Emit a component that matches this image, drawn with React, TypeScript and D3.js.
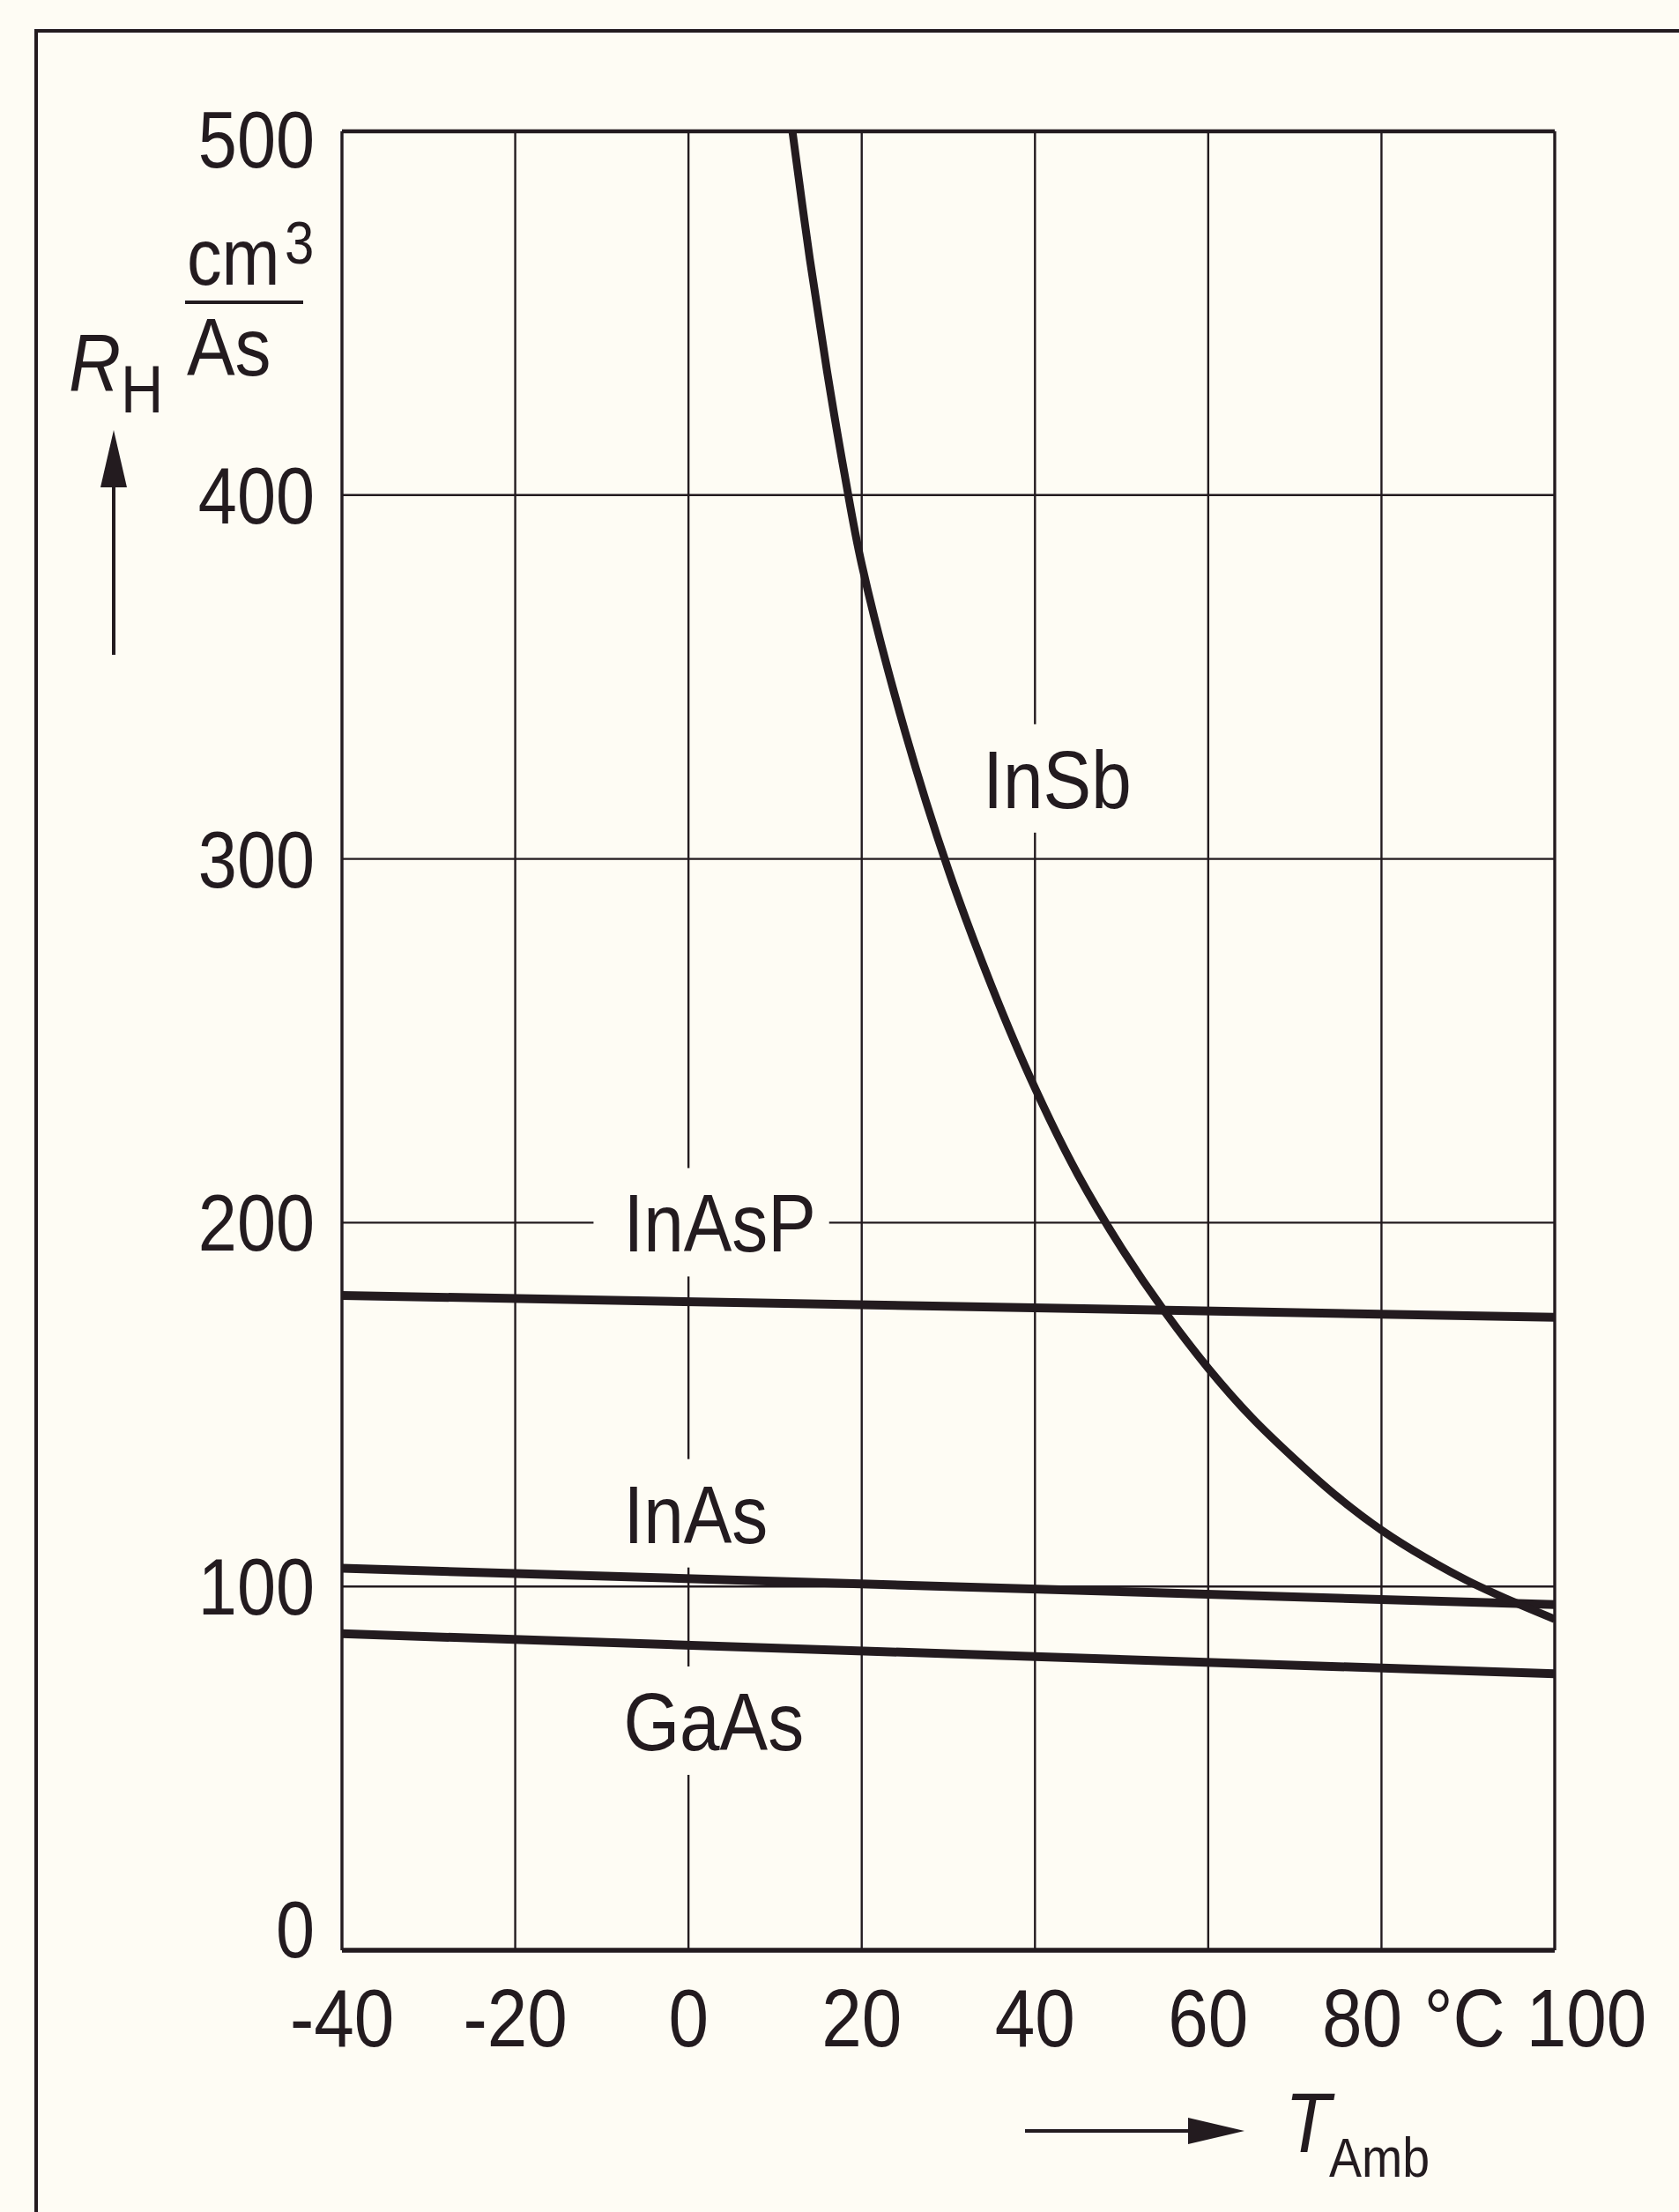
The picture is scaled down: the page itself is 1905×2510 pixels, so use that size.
import React, { useEffect, useRef } from 'react';
import * as d3 from 'd3';

// axis ticks
const xTicks = [-40, -20, 0, 20, 40, 60, 80, 100];
const yTicks = [0, 100, 200, 300, 400, 500];

// straight lines: values at -40 and 100 degC
const lineTemps = [-40, 100];
const inAsP = [180, 174];
const inAs = [105, 95];
const gaAs = [87, 76];

// InSb curve
const inSbTemps = [12, 14, 16, 18, 20, 25, 30, 35, 40, 45, 50, 55, 60, 65, 70, 75, 80, 85, 90, 95, 100];
const inSbValues = [500, 465, 434, 406, 381, 335, 297, 265, 237, 213, 193, 175.5, 160, 146.5, 135, 124.5, 115.5, 108, 101.5, 96, 91];

// curve labels (data coords of the text baseline start)
const labelNames = ['InSb', 'InAsP', 'InAs', 'GaAs'];
const labelTemps = [34, -7.5, -7.5, -7.5];
const labelValues = [314, 192, 112, 55];

export default function App() {
    const svgRef = useRef(null);

    useEffect(() => {
        if (!svgRef.current) return;
        const svg = d3.select(svgRef.current);
        svg.selectAll('*').remove();

        const width = 1905;
        const height = 2510;
        const bg = '#fefcf4';
        const ink = '#231b1f';
        const font = '"Liberation Sans", Arial, Helvetica, sans-serif';
        const sx = 0.88;
        const plot = { left: 388, right: 1764, top: 149, bottom: 2213 };

        const x = d3.scaleLinear().domain([-40, 100]).range([plot.left, plot.right]);
        const y = d3.scaleLinear().domain([0, 500]).range([plot.bottom, plot.top]);

        const text = (px, py, s, size, anchor = 'start', italic = false) =>
            svg.append('text')
                .attr('transform', `translate(${px},${py}) scale(${sx},1)`)
                .attr('font-family', font)
                .attr('font-size', size)
                .attr('font-style', italic ? 'italic' : 'normal')
                .attr('text-anchor', anchor)
                .attr('fill', ink)
                .text(s);

        svg.append('rect').attr('width', width).attr('height', height).attr('fill', bg);

        // page frame
        svg.append('path')
            .attr('d', `M41,${height} L41,35 L${width},35`)
            .attr('fill', 'none').attr('stroke', ink).attr('stroke-width', 4);

        // grid
        svg.append('g')
            .selectAll('line')
            .data(xTicks.slice(1, -1))
            .join('line')
            .attr('x1', d => x(d)).attr('x2', d => x(d))
            .attr('y1', plot.top).attr('y2', plot.bottom)
            .attr('stroke', ink).attr('stroke-width', 2.4);
        svg.append('g')
            .selectAll('line')
            .data(yTicks.slice(1, -1))
            .join('line')
            .attr('x1', plot.left).attr('x2', plot.right)
            .attr('y1', d => y(d)).attr('y2', d => y(d))
            .attr('stroke', ink).attr('stroke-width', 2.4);

        // label knock-outs over the grid
        const labelSize = 93;
        const labels = labelNames.map((name, i) => ({ name, px: x(labelTemps[i]), py: y(labelValues[i]) }));
        const bgLayer = svg.append('g');

        // axis box
        svg.append('line').attr('x1', plot.left).attr('x2', plot.right).attr('y1', plot.top).attr('y2', plot.top)
            .attr('stroke', ink).attr('stroke-width', 4.5);
        svg.append('line').attr('x1', plot.left).attr('x2', plot.right).attr('y1', plot.bottom).attr('y2', plot.bottom)
            .attr('stroke', ink).attr('stroke-width', 5.5);
        [plot.left, plot.right].forEach(px => {
            svg.append('line').attr('x1', px).attr('x2', px).attr('y1', plot.top).attr('y2', plot.bottom)
                .attr('stroke', ink).attr('stroke-width', 3.4);
        });

        // curves
        svg.append('clipPath').attr('id', 'plotClip')
            .append('rect')
            .attr('x', plot.left).attr('y', plot.top - 1)
            .attr('width', plot.right - plot.left).attr('height', plot.bottom - plot.top + 1);

        const straight = d3.line()
            .x(d => x(d[0]))
            .y(d => y(d[1]));
        [inAsP, inAs, gaAs].forEach(vals => {
            svg.append('path')
                .datum(lineTemps.map((t, i) => [t, vals[i]]))
                .attr('clip-path', 'url(#plotClip)')
                .attr('fill', 'none')
                .attr('stroke', ink)
                .attr('stroke-width', 10)
                .attr('d', straight);
        });

        const curve = d3.line()
            .x(d => x(d[0]))
            .y(d => y(d[1]))
            .curve(d3.curveCatmullRom.alpha(0.5));
        svg.append('path')
            .datum(inSbTemps.map((t, i) => [t, inSbValues[i]]))
            .attr('clip-path', 'url(#plotClip)')
            .attr('fill', 'none')
            .attr('stroke', ink)
            .attr('stroke-width', 9)
            .attr('d', curve);

        // curve labels
        labels.forEach(l => {
            const t = text(l.px, l.py, l.name, labelSize);
            const w = t.node().getBBox().width * sx;
            bgLayer.append('rect')
                .attr('x', l.px - 34).attr('y', l.py - 95)
                .attr('width', w + 49).attr('height', 123)
                .attr('fill', bg);
        });

        // y tick labels
        yTicks.forEach(v => {
            const cy = Math.max(plot.top + 9, Math.min(plot.bottom - 24, y(v)));
            text(357, cy + 32, String(v), 90, 'end');
        });

        // x tick labels
        xTicks.forEach(v => {
            let px = x(v);
            if (v === 80) px -= 22;
            if (v === 100) px += 36;
            text(px, 2322, String(v), 93, 'middle');
        });
        text(x(90) - 4, 2322, '°C', 93, 'middle');

        // y axis title
        text(78, 444, 'R', 93, 'start', true);
        text(137, 468, 'H', 76);
        text(212, 323, 'cm', 90);
        text(323, 299, '3', 68);
        svg.append('line').attr('x1', 210).attr('x2', 344).attr('y1', 343).attr('y2', 343)
            .attr('stroke', ink).attr('stroke-width', 4);
        text(212, 426, 'As', 93);
        svg.append('line').attr('x1', 129).attr('x2', 129).attr('y1', 743).attr('y2', 550)
            .attr('stroke', ink).attr('stroke-width', 4);
        svg.append('path').attr('d', 'M114,553 L144,553 L129,488 Z').attr('fill', ink);

        // x axis title
        svg.append('line').attr('x1', 1163).attr('x2', 1352).attr('y1', 2418).attr('y2', 2418)
            .attr('stroke', ink).attr('stroke-width', 4);
        svg.append('path').attr('d', 'M1348,2403 L1348,2433 L1412,2418 Z').attr('fill', ink);
        text(1458, 2442, 'T', 96, 'start', true);
        text(1508, 2470, 'Amb', 63);
    }, []);

    return (
        <svg
            ref={svgRef}
            width={1905}
            height={2510}
            viewBox="0 0 1905 2510"
            style={{ position: 'absolute', left: 0, top: 0, display: 'block' }}
        />
    );
}
